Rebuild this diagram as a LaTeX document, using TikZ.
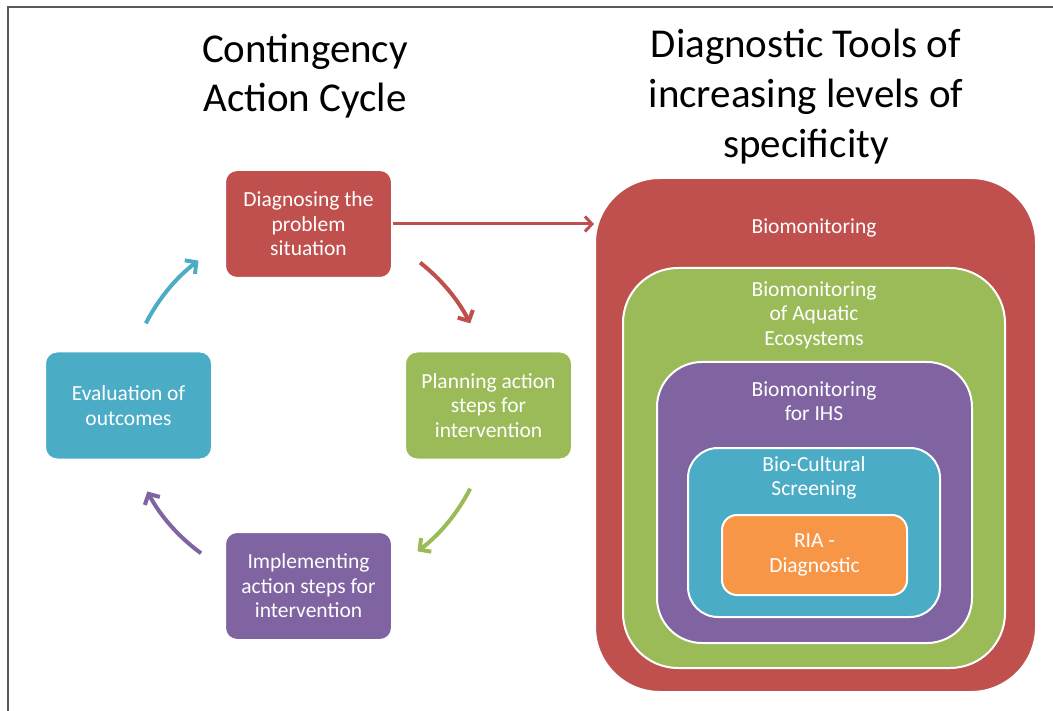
\documentclass[tikz,border=0pt]{standalone}
\usepackage{fontspec}
\setmainfont{Carlito}
\usetikzlibrary{arrows.meta}

\definecolor{cRed}{HTML}{C0504D}
\definecolor{cGreen}{HTML}{9BBB59}
\definecolor{cPurple}{HTML}{8064A2}
\definecolor{cTeal}{HTML}{4BACC6}
\definecolor{cOrange}{HTML}{F79646}

\begin{document}
\begin{tikzpicture}[x=1pt, y=-1pt,
    step box/.style={rounded corners=12pt, draw=white, line width=2pt, text=white,
        minimum width=167pt, minimum height=108pt, align=center,
        font=\fontsize{21.5}{24.5}\selectfont},
    layer/.style={draw=white, line width=2pt, text=white, align=center,
        font=\fontsize{21.5}{24.5}\selectfont},
    layer label/.style={text=white, align=center, font=\fontsize{21.5}{24.5}\selectfont},
    cyc arrow/.style={line width=4pt, -{Straight Barb[length=8pt, width=17pt]}},
    title/.style={align=center, font=\fontsize{41}{48.5}\selectfont}]
    \useasboundingbox (0,0) rectangle (1053,711);
    \draw[line width=2pt, black!65] (8,711) -- (8,7) -- (1053,7);

    \node[title] (cycTitle) at (305,76) {Contingency\\Action Cycle};
    \node[title, font=\fontsize{41}{50}\selectfont] (toolTitle) at (806,97) {Diagnostic Tools of\\increasing levels of\\specificity};

    % action cycle
    \node[step box, fill=cRed] (diag) at (308.5,224) {Diagnosing the\\problem\\situation};
    \node[step box, fill=cGreen] (plan) at (488.5,405.5) {Planning action\\steps for\\intervention};
    \node[step box, fill=cPurple] (impl) at (308.5,586) {Implementing\\action steps for\\intervention};
    \node[step box, fill=cTeal] (eval) at (128.5,405.5) {Evaluation of\\outcomes};

    \coordinate (cyc) at (308,406);
    \draw[cyc arrow, cRed] ([shift={(-52:182)}]cyc) arc[start angle=-52, end angle=-27, radius=182];
    \draw[cyc arrow, cGreen] ([shift={(27:182)}]cyc) arc[start angle=27, end angle=53, radius=182];
    \draw[cyc arrow, cPurple] ([shift={(126:182)}]cyc) arc[start angle=126, end angle=152, radius=182];
    \draw[cyc arrow, cTeal] ([shift={(-153:182)}]cyc) arc[start angle=-153, end angle=-127, radius=182];

    % nested tools
    \node[layer, fill=cRed, minimum width=441pt, minimum height=514pt, rounded corners=65pt] (bio) at (815.5,435) {};
    \node[layer, fill=cGreen, minimum width=382pt, minimum height=400pt, rounded corners=55pt] (aqua) at (814,468) {};
    \node[layer, fill=cPurple, minimum width=315pt, minimum height=281pt, rounded corners=45pt] (ihs) at (814.5,502.5) {};
    \node[layer, fill=cTeal, minimum width=252pt, minimum height=169pt, rounded corners=30pt] (screen) at (814,532.5) {};
    \node[layer, fill=cOrange, minimum width=185pt, minimum height=80pt, rounded corners=15pt] (ria) at (814.5,555) {RIA -\\Diagnostic};

    \node[layer label] (bioText) at (814,228) {Biomonitoring};
    \node[layer label] (aquaText) at (814,315) {Biomonitoring\\of Aquatic\\Ecosystems};
    \node[layer label] (ihsText) at (814,401) {Biomonitoring\\for IHS};
    \node[layer label] (screenText) at (814,478) {Bio-Cultural\\Screening};

    \draw[line width=3pt, cRed, -{Straight Barb[length=7pt, width=15pt]}] (diag.east) -- (diag.east -| bio.west);
\end{tikzpicture}
\end{document}
